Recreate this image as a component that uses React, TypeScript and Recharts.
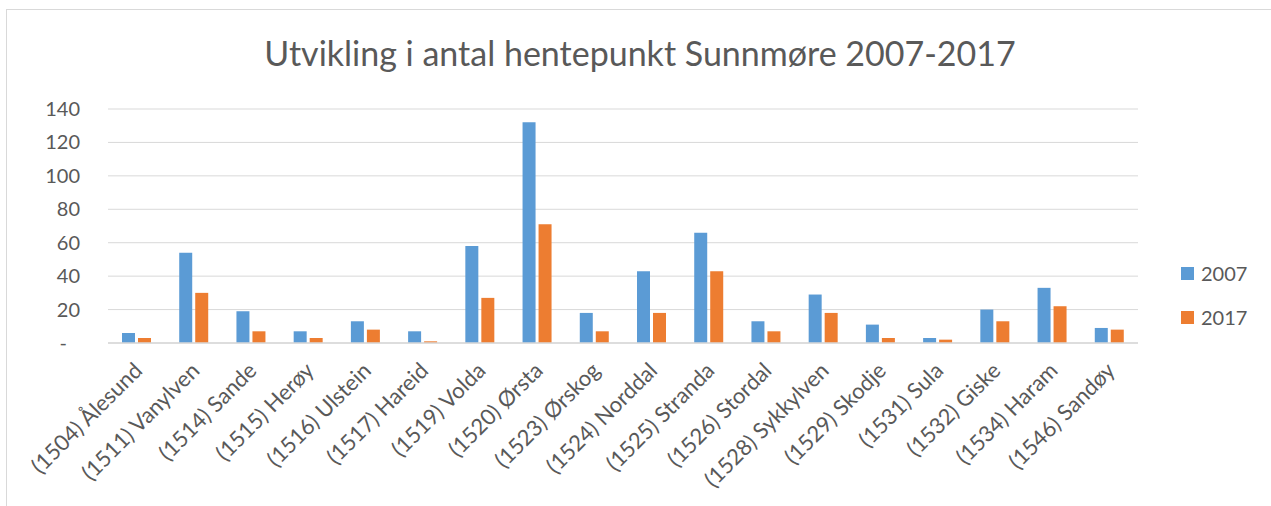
import { BarChart, Bar, XAxis, YAxis, CartesianGrid } from "recharts";

const municipalities = [
  "(1504) Ålesund",
  "(1511) Vanylven",
  "(1514) Sande",
  "(1515) Herøy",
  "(1516) Ulstein",
  "(1517) Hareid",
  "(1519) Volda",
  "(1520) Ørsta",
  "(1523) Ørskog",
  "(1524) Norddal",
  "(1525) Stranda",
  "(1526) Stordal",
  "(1528) Sykkylven",
  "(1529) Skodje",
  "(1531) Sula",
  "(1532) Giske",
  "(1534) Haram",
  "(1546) Sandøy",
];
const values2007 = [6, 54, 19, 7, 13, 7, 58, 132, 18, 43, 66, 13, 29, 11, 3, 20, 33, 9];
const values2017 = [3, 30, 7, 3, 8, 1, 27, 71, 7, 18, 43, 7, 18, 3, 2, 13, 22, 8];
const yTicks = [0, 20, 40, 60, 80, 100, 120, 140];
const seriesNames = ["2007", "2017"];
const seriesColors = ["#5b9bd5", "#ed7d31"];

const data = municipalities.map((name, i) => ({
  name,
  y2007: values2007[i],
  y2017: values2017[i],
}));

const FONT = "Lato, 'Open Sans', sans-serif";
const TEXT = "#595959";
const GRID = "#d9d9d9";

const XTick = ({ x, y, payload }: any) => (
  <g transform={`translate(${x + 7},${y + 29}) rotate(-45)`}>
    <text textAnchor="end" fontSize={22} fill={TEXT} fontFamily={FONT}>
      {payload.value}
    </text>
  </g>
);

const YTick = ({ x, y, payload }: any) => (
  <text
    x={payload.value === 0 ? x - 13 : x}
    y={y}
    dy={7}
    textAnchor="end"
    fontSize={20}
    fill={TEXT}
    fontFamily={FONT}
  >
    {payload.value === 0 ? "-" : payload.value}
  </text>
);

export default function App() {
  return (
    <div
      style={{
        position: "absolute",
        left: 0,
        top: 0,
        width: 1271,
        height: 506,
        overflow: "hidden",
        background: "#fff",
      }}
    >
      <div
        style={{
          position: "absolute",
          left: 6,
          top: 9,
          width: 1400,
          height: 700,
          border: `1px solid ${GRID}`,
        }}
      />
      <div
        style={{
          position: "absolute",
          left: 0,
          top: 32,
          width: 1280,
          textAlign: "center",
          fontFamily: FONT,
          fontSize: 34,
          color: TEXT,
        }}
      >
        Utvikling i antal hentepunkt Sunnmøre 2007-2017
      </div>
      <div style={{ position: "absolute", left: 0, top: 0 }}>
        <BarChart
          width={1271}
          height={506}
          data={data}
          margin={{ top: 109, right: 133, left: 0, bottom: 0 }}
          barSize={13}
          barGap={3}
        >
          <CartesianGrid vertical={false} stroke={GRID} />
          <XAxis
            dataKey="name"
            interval={0}
            height={163}
            tick={<XTick />}
            tickLine={false}
            tickSize={0}
            tickMargin={0}
            axisLine={{ stroke: GRID, strokeWidth: 1.5 }}
          />
          <YAxis
            domain={[0, 140]}
            ticks={yTicks}
            interval={0}
            width={108}
            tick={<YTick />}
            tickLine={false}
            tickSize={0}
            tickMargin={28}
            axisLine={false}
          />
          <Bar dataKey="y2007" name="2007" fill={seriesColors[0]} isAnimationActive={false} />
          <Bar dataKey="y2017" name="2017" fill={seriesColors[1]} isAnimationActive={false} />
        </BarChart>
      </div>
      <div
        style={{
          position: "absolute",
          left: 1181,
          top: 251,
          fontFamily: FONT,
          fontSize: 20,
          color: TEXT,
        }}
      >
        {seriesNames.map((n, i) => (
          <div key={n} style={{ display: "flex", alignItems: "center", height: 44 }}>
            <span
              style={{
                display: "inline-block",
                width: 13,
                height: 13,
                background: seriesColors[i],
                marginRight: 7,
              }}
            />
            {n}
          </div>
        ))}
      </div>
    </div>
  );
}
